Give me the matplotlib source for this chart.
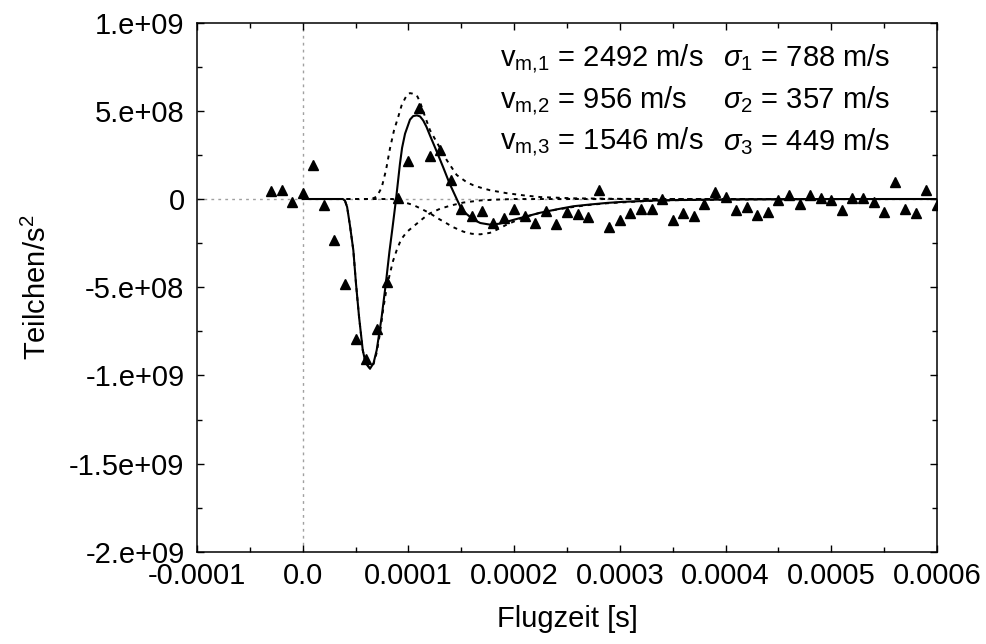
import numpy as np
import matplotlib
matplotlib.use("Agg")
import matplotlib.pyplot as plt
from matplotlib.ticker import FixedLocator, FixedFormatter

plt.rcParams["font.family"] = ["Liberation Sans", "DejaVu Sans"]
plt.rcParams["mathtext.fontset"] = "custom"
plt.rcParams["mathtext.rm"] = "Liberation Sans"
plt.rcParams["mathtext.it"] = "Liberation Sans:italic"

# measured points: time of flight [s] and signal [1e8 particles/s^2]
meas_t = np.arange(-3, 61) * 1e-5
meas_y = np.array([
    0.45, 0.53, -0.17, 0.34, 1.91, -0.36, -2.30, -4.83, -7.96, -9.09,
    -7.39, -4.70, 0.08, 2.15, 5.17, 2.42, 2.80, 1.10, -0.57, -0.98,
    -0.70, -1.36, -1.10, -0.59, -0.98, -1.36, -0.70, -1.43, -0.74, -0.83,
    -1.02, 0.53, -1.58, -1.21, -0.79, -0.54, -0.54, -0.02, -1.21, -0.79,
    -0.98, -0.26, 0.40, 0.11, -0.64, -0.45, -0.92, -0.74, -0.07, 0.23,
    -0.26, 0.23, 0.06, -0.07, -0.60, 0.06, 0.06, -0.17, -0.74, 0.96,
    -0.54, -0.79, 0.49, -0.36]) * 1e8

# total fit (solid line); t in microseconds
fit_t = np.array([0, 38, 40, 42, 44.7, 47.9, 50.4, 53.3, 56.8, 59.5, 63.7, 67, 70,
                  74.7, 78.8, 82, 85, 88.3, 92, 94, 96.8, 101.5, 104.5, 108, 111,
                  114, 117, 120.4, 127, 133, 139, 145.7, 150, 155, 161.4, 168,
                  177, 186, 193, 200, 208.7, 224.5, 240, 256, 272, 288, 303, 319,
                  335, 351, 400, 450, 500, 550, 600]) * 1e-6
fit_y = np.array([0, 0, -0.1, -0.45, -1.5, -2.91, -4.79, -6.68, -8.56, -9.3, -9.61, -9.3,
                  -8.56, -6.68, -4.70, -3.0, -1.6, 0, 2.0, 2.9, 3.7, 4.5, 4.7, 4.74,
                  4.68, 4.45, 4.1, 3.6, 2.66, 1.78, 0.87, 0, -0.55, -0.85, -1.16,
                  -1.36, -1.45, -1.40, -1.29, -1.17, -1.03, -0.78, -0.59, -0.41,
                  -0.31, -0.22, -0.16, -0.12, -0.08, -0.06, -0.03, -0.015, -0.005,
                  0, 0]) * 1e8

# component 3 (positive peak, dotted)
comp3_t = np.array([0, 65, 70, 74.7, 78.8, 82.5, 86.4, 90.4, 93.5, 96.8, 99, 101.5,
                    104, 107.8, 111, 114.1, 120.4, 128.3, 136.2, 145.7, 155.2, 161.4,
                    168, 177, 193, 210, 225, 256, 300, 350, 600]) * 1e-6
comp3_y = np.array([0, 0, 0.13, 0.65, 1.64, 2.85, 3.9, 4.66, 5.3, 5.7, 5.93, 6.0,
                    5.97, 5.89, 5.5, 4.94, 3.9, 3.06, 2.21, 1.36, 0.95, 0.78, 0.65,
                    0.5, 0.33, 0.2, 0.11, 0.04, 0.01, 0, 0]) * 1e8

# component 2 (slow, negative, dotted)
comp2_t = np.array([0, 85, 92, 98, 104.6, 112, 120.4, 128, 136.2, 142.5, 152, 160,
                    168, 177, 185, 193, 208.7, 224.5, 240, 256, 272, 288, 320, 350,
                    400, 450, 500, 600]) * 1e-6
comp2_y = np.array([0, 0, -0.12, -0.22, -0.34, -0.55, -0.81, -1.1, -1.38, -1.6, -1.85,
                    -1.97, -2.0, -1.92, -1.7, -1.45, -1.05, -0.78, -0.6, -0.45, -0.33,
                    -0.24, -0.13, -0.07, -0.03, -0.015, -0.005, 0]) * 1e8

# component 1 (fast, negative dip, dotted)
comp1_t = np.array([0, 38, 40, 42, 44.7, 47.9, 50.4, 53.3, 56.8, 59.5, 63.7, 67, 70,
                    73.1, 76, 79.5, 82.6, 85.5, 88.9, 93, 98.4, 104.6, 114.1, 120.4,
                    130, 140, 152, 168, 185, 200, 600]) * 1e-6
comp1_y = np.array([0, 0, -0.1, -0.45, -1.5, -2.91, -4.79, -6.68, -8.56, -9.3, -9.61,
                    -9.35, -8.7, -7.6, -6.3, -5.0, -4.2, -3.5, -2.9, -2.3, -1.87,
                    -1.56, -1.09, -0.81, -0.55, -0.37, -0.2, -0.08, -0.03, 0, 0]) * 1e8

x_ticks = [-1e-4, 0, 1e-4, 2e-4, 3e-4, 4e-4, 5e-4, 6e-4]
x_labels = ["-0.0001", "0.0", "0.0001", "0.0002", "0.0003", "0.0004", "0.0005", "0.0006"]
y_ticks = [-2e9, -1.5e9, -1e9, -5e8, 0, 5e8, 1e9]
y_labels = ["-2.e+09", "-1.5e+09", "-1.e+09", "-5.e+08", "0", "5.e+08", "1.e+09"]

annot_v = [r"v$_{\mathrm{m{,}1}}$ = 2492 m/s", r"v$_{\mathrm{m{,}2}}$ = 956 m/s",
           r"v$_{\mathrm{m{,}3}}$ = 1546 m/s"]
annot_s = [r"$\sigma_{\mathrm{1}}$ = 788 m/s", r"$\sigma_{\mathrm{2}}$ = 357 m/s",
           r"$\sigma_{\mathrm{3}}$ = 449 m/s"]

fig = plt.figure(figsize=(9.87, 6.44), dpi=100)
ax = fig.add_axes([0.1996, 0.1429, 0.7497, 0.8221])

ax.axhline(0, color="#a0a0a0", lw=1, ls=(0, (2, 3)), zorder=1)
ax.axvline(0, color="#a0a0a0", lw=1, ls=(0, (2, 3)), zorder=1)

ax.plot(fit_t, fit_y, color="black", lw=1.5, zorder=3)
for ct, cy in [(comp1_t, comp1_y), (comp2_t, comp2_y), (comp3_t, comp3_y)]:
    ax.plot(ct, cy, color="black", lw=1.4, ls=(0, (2, 2.5)), zorder=3)
ax.plot(meas_t, meas_y, ls="none", marker="^", ms=7.5, color="black", zorder=4)

ax.set_xlim(-1e-4, 6e-4)
ax.set_ylim(-2e9, 1e9)
ax.xaxis.set_major_locator(FixedLocator(x_ticks))
ax.xaxis.set_major_formatter(FixedFormatter(x_labels))
ax.xaxis.set_minor_locator(FixedLocator(np.arange(-1e-4, 6.01e-4, 5e-5)))
ax.yaxis.set_major_locator(FixedLocator(y_ticks))
ax.yaxis.set_major_formatter(FixedFormatter(y_labels))
ax.yaxis.set_minor_locator(FixedLocator(np.arange(-2e9, 1.01e9, 2.5e8)))
ax.tick_params(which="both", direction="in", top=True, right=True, width=1,
               labelsize=21, color="black")
ax.tick_params(which="major", length=5)
ax.tick_params(which="minor", length=3.5)
ax.tick_params(axis="y", pad=9)
ax.tick_params(axis="x", pad=7)
for s in ax.spines.values():
    s.set_linewidth(1.1)

ax.set_xlabel("Flugzeit [s]", fontsize=21, labelpad=11)
ax.set_ylabel(r"Teilchen/s$^2$", fontsize=21, labelpad=12)

for i in range(3):
    y_px = 58 + 42 * i
    fy = 1 - y_px / 644
    fig.text(500 / 987, fy, annot_v[i], fontsize=21, va="center", ha="left")
    fig.text(890 / 987, fy, annot_s[i], fontsize=21, va="center", ha="right")

fig.savefig("out.png", dpi=100)
